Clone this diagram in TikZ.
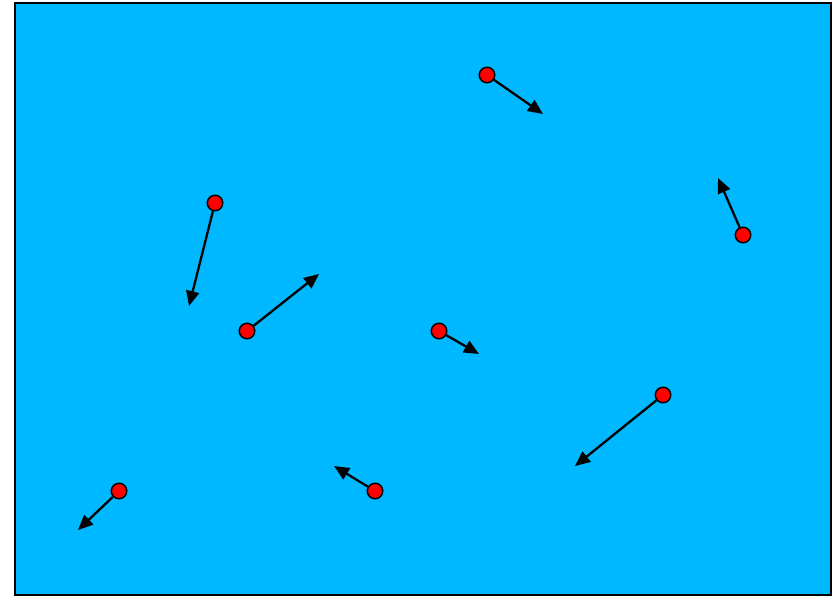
\documentclass[tikz,border=0pt]{standalone}
\usetikzlibrary{arrows.meta}
\definecolor{sky}{HTML}{00B8FF}
\definecolor{ball}{HTML}{FF0000}

\tikzset{
  ballnode/.style={circle, draw=black, fill=ball, line width=1.5pt, inner sep=0pt, minimum size=15.5pt},
  velo/.style={line width=2.3pt, -{Triangle[length=15pt,width=13pt]}}
}

\begin{document}
\begin{tikzpicture}[x=1pt, y=-1pt]
  \useasboundingbox (0,0) rectangle (840,595);
  \draw[fill=sky, line width=2pt] (14.5,2.5) rectangle (831,594.5);

  % particles: name / position / velocity tip
  \foreach \n/\px/\py/\vx/\vy in {a/487/75/543/114, b/215/203/189/306, c/743/235/718/178,
                                  d/247/331/319/274, e/439/331/479/354, f/663/395/575/466,
                                  g/119/491/78/530, h/375/491/334/466} {
    \coordinate (v\n) at (\vx,\vy);
    \node[ballnode] (p\n) at (\px,\py) {};
    \draw[velo] (p\n) -- (v\n);
  }
\end{tikzpicture}
\end{document}
